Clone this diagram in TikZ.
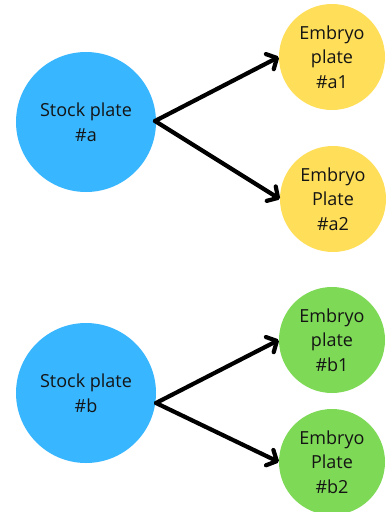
\documentclass[tikz,border=0pt]{standalone}
\usepackage{fontspec}
\setmainfont{Open Sans}
\usetikzlibrary{arrows.meta}
\definecolor{stockblue}{HTML}{38B6FF}
\definecolor{embyellow}{HTML}{FFDE59}
\definecolor{embgreen}{HTML}{7ED957}
\definecolor{ink}{HTML}{141414}
\begin{document}
\begin{tikzpicture}[x=1pt,y=-1pt,
  plate/.style={circle, inner sep=0pt, draw=none, align=center, text=ink,
    font=\fontsize{18}{24.5}\selectfont},
  stock/.style={plate, fill=stockblue, minimum size=140pt},
  embryoA/.style={plate, fill=embyellow, minimum size=106pt},
  embryoB/.style={plate, fill=embgreen, minimum size=106pt},
  link/.style={line width=4.2pt, line cap=round, line join=round,
    -{Straight Barb[length=8pt, width=17pt, line cap=round, line join=round]}}]
\useasboundingbox (0,0) rectangle (386,512);
\fill[white] (0,0) rectangle (386,512);

% first group
\node[stock]   (sa) at (86,122) {Stock plate\\\#a};
\node[embryoA] (a1) at (332,57)  {Embryo\\plate\\\#a1};
\node[embryoA] (a2) at (333,199) {Embryo\\Plate\\\#a2};
\coordinate (fa) at (155,121);
\draw[link] (fa) -- (a1.west);
\draw[link] (fa) -- (a2.west);

% second group
\node[stock]   (sb) at (86,393)  {Stock plate\\\#b};
\node[embryoB] (b1) at (332,340) {Embryo\\plate\\\#b1};
\node[embryoB] (b2) at (332,462) {Embryo\\Plate\\\#b2};
\coordinate (fb) at (156,403);
\draw[link] (fb) -- (b1.west);
\draw[link] (fb) -- (b2.west);
\end{tikzpicture}
\end{document}
